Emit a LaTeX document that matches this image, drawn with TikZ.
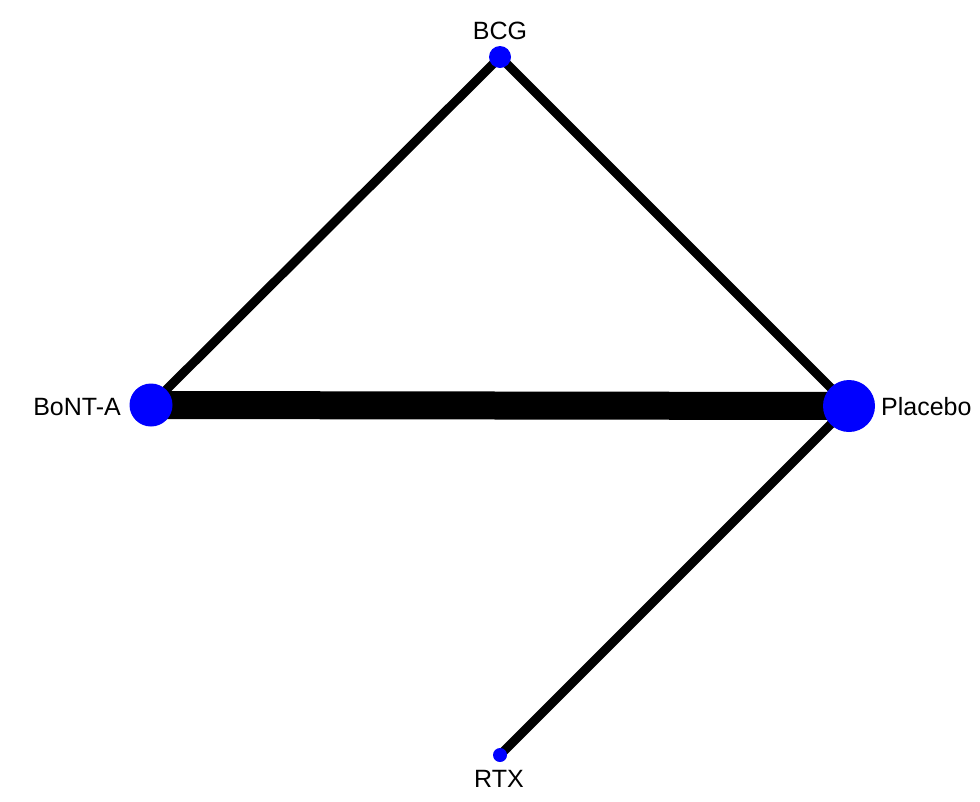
\documentclass[tikz,border=0pt]{standalone}
\usepackage{fontspec}
\setmainfont{Liberation Sans}
\begin{document}
\begin{tikzpicture}[x=1pt,y=-1pt,
  dot/.style={circle,fill={rgb,255:red,0;green,0;blue,255},draw=none,inner sep=0pt},
  edge/.style={line width=9pt,black},
  thickedge/.style={line width=28pt,black},
  lbl/.style={font=\fontsize{25}{30}\selectfont,inner sep=0pt}]
\useasboundingbox[fill=white] (0,0) rectangle (980,801);
\coordinate (bcg) at (500,57);
\coordinate (bont) at (151,405);
\coordinate (plac) at (849,406);
\coordinate (rtx) at (500,755);
\draw[edge] (bcg) -- (bont);
\draw[edge] (bcg) -- (plac);
\draw[edge] (plac) -- (rtx);
\draw[thickedge] (bont) -- (plac);
\node[dot,minimum size=22pt] (bcgn) at (bcg) {};
\node[dot,minimum size=43pt] (bontn) at (bont) {};
\node[dot,minimum size=52pt] (placn) at (plac) {};
\node[dot,minimum size=14pt] (rtxn) at (rtx) {};
\node[lbl,anchor=base] (bcgl) at (500,39) {BCG};
\node[lbl,anchor=base east] (bontl) at (121,415) {BoNT-A};
\node[lbl,anchor=base west] (placl) at (881,415) {Placebo};
\node[lbl,anchor=base] (rtxl) at (499,787) {RTX};
\end{tikzpicture}
\end{document}
